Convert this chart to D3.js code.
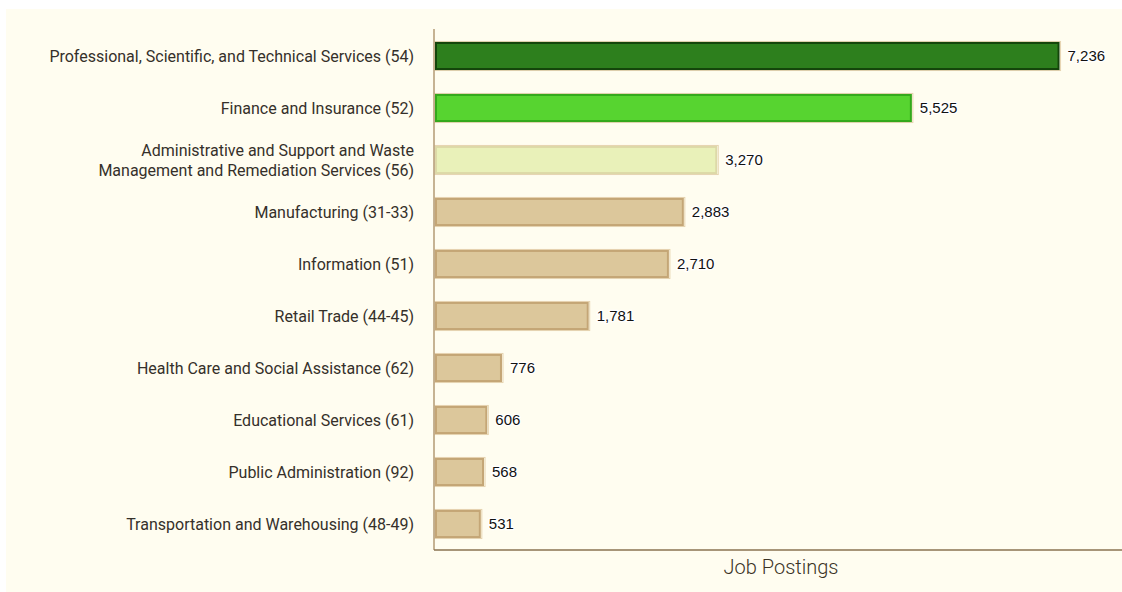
<!DOCTYPE html>
<html>
<head>
<meta charset="utf-8">
<script src="https://cdn.jsdelivr.net/npm/d3@7"></script>
<style>
  body { margin: 0; background: #ffffff; }
  svg { display: block; }
</style>
</head>
<body>
<svg id="chart" width="1122" height="592"></svg>
<script>
// data
var industries = [
  ["Professional, Scientific, and Technical Services (54)"],
  ["Finance and Insurance (52)"],
  ["Administrative and Support and Waste", "Management and Remediation Services (56)"],
  ["Manufacturing (31-33)"],
  ["Information (51)"],
  ["Retail Trade (44-45)"],
  ["Health Care and Social Assistance (62)"],
  ["Educational Services (61)"],
  ["Public Administration (92)"],
  ["Transportation and Warehousing (48-49)"]
];
var postings = [7236, 5525, 3270, 2883, 2710, 1781, 776, 606, 568, 531];
var fills   = ["#2d7f1d", "#57d430", "#e9f1b9", "#dcc79b", "#dcc79b", "#dcc79b", "#dcc79b", "#dcc79b", "#dcc79b", "#dcc79b"];
var borders = ["#14450b", "#34a81c", "#ddd9a8", "#c4a676", "#c4a676", "#c4a676", "#c4a676", "#c4a676", "#c4a676", "#c4a676"];
var axisTitle = "Job Postings";

var svg = d3.select("#chart");
var W = 1122, H = 592;
var plot = { left: 434, top: 30, right: 1122, bottom: 550 };

// cream panel
svg.append("rect")
  .attr("x", 6).attr("y", 9)
  .attr("width", W - 6).attr("height", H - 9)
  .attr("fill", "#fffdf0");

var idx = d3.range(postings.length);

var x = d3.scaleLinear()
  .domain([0, 7236 * 1.1])
  .range([plot.left + 1, plot.right]);

var y = d3.scaleBand()
  .domain(idx)
  .range([plot.top, plot.bottom])
  .paddingInner(0.46)
  .paddingOuter(0.23);

var g = svg.append("g");

// bars
var bars = g.selectAll(".bar").data(idx).enter().append("g").attr("class", "bar");

// light outer edge
bars.append("rect")
  .attr("x", x(0))
  .attr("y", function(i) { return y(i) - 0.5; })
  .attr("width", function(i) { return x(postings[i]) - x(0) + 1; })
  .attr("height", y.bandwidth() + 1)
  .attr("fill", "none")
  .attr("stroke", "#e6d4b0")
  .attr("stroke-width", 1);

bars.append("rect")
  .attr("x", x(0) + 1)
  .attr("y", function(i) { return y(i) + 1; })
  .attr("width", function(i) { return x(postings[i]) - x(0) - 2; })
  .attr("height", y.bandwidth() - 2)
  .attr("fill", function(i) { return fills[i]; })
  .attr("stroke", function(i) { return borders[i]; })
  .attr("stroke-width", 2);

// value labels
var fmt = d3.format(",");
bars.append("text")
  .attr("x", function(i) { return x(postings[i]) + 8; })
  .attr("y", function(i) { return y(i) + y.bandwidth() / 2; })
  .attr("dy", "0.36em")
  .attr("font-family", "Liberation Sans, Arial, sans-serif")
  .attr("font-size", 15)
  .attr("fill", "#111")
  .attr("stroke", "#fff")
  .attr("stroke-width", 2.5)
  .attr("paint-order", "stroke")
  .text(function(i) { return fmt(postings[i]); });

// category labels
var labels = g.selectAll(".cat").data(idx).enter().append("text")
  .attr("class", "cat")
  .attr("text-anchor", "end")
  .attr("font-family", "Roboto, sans-serif")
  .attr("font-size", 16)
  .attr("fill", "#35302a")
  .attr("y", function(i) { return y(i) + y.bandwidth() / 2; });

labels.each(function(i) {
  var lines = industries[i];
  var t = d3.select(this);
  lines.forEach(function(l, k) {
    t.append("tspan")
      .attr("x", 414)
      .attr("dy", k === 0 ? ((0.35 - (lines.length - 1) * 0.62) + "em") : "1.24em")
      .text(l);
  });
});

// axis lines
g.append("line")
  .attr("x1", plot.left).attr("x2", plot.left)
  .attr("y1", plot.top - 1).attr("y2", plot.bottom)
  .attr("stroke", "#b39a74").attr("stroke-width", 1.5);
g.append("line")
  .attr("x1", plot.left).attr("x2", plot.right)
  .attr("y1", plot.bottom).attr("y2", plot.bottom)
  .attr("stroke", "#8a7250").attr("stroke-width", 1.5);

// axis title
g.append("text")
  .attr("x", 781).attr("y", 574)
  .attr("text-anchor", "middle")
  .attr("font-family", "Roboto, sans-serif")
  .attr("font-size", 20)
  .attr("font-weight", 300)
  .attr("fill", "#3b3325")
  .text(axisTitle);
</script>
</body>
</html>
